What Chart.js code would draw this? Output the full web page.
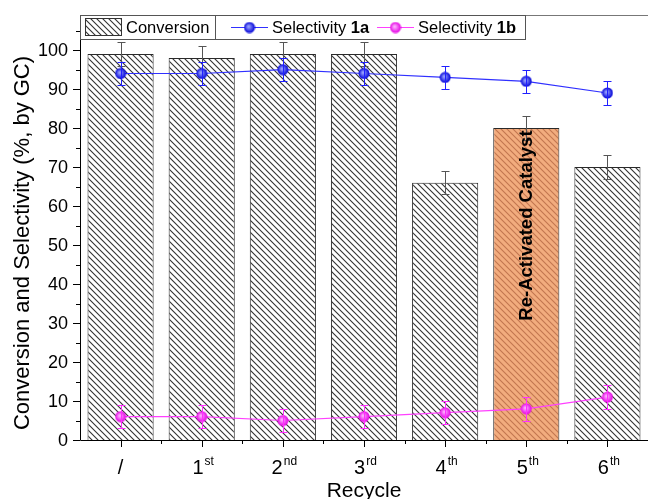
<!DOCTYPE html>
<html>
<head>
<meta charset="utf-8">
<script src="https://cdn.jsdelivr.net/npm/chart.js@4.4.0/dist/chart.umd.min.js"></script>
<style>
  html, body { margin: 0; padding: 0; background: #fff; }
  #wrap { width: 648px; height: 499px; position: relative; }
</style>
</head>
<body>
<div id="wrap"><canvas id="chart"></canvas></div>
<script>
// data
const recycleLabels = ['/', '1', '2', '3', '4', '5', '6'];
const recycleSup = ['', 'st', 'nd', 'rd', 'th', 'th', 'th'];
const conversion = [99, 98, 99, 99, 66, 80, 70];
const conversionErr = [3, 3, 3, 3, 3, 3, 3];
const select1a = [94, 94, 95, 94, 93, 92, 89];
const select1aErr = [3, 3, 3, 3, 3, 3, 3];
const select1b = [6, 6, 5, 6, 7, 8, 11];
const select1bErr = [3, 3, 3, 3, 3, 3, 3];
const yTicks = [0, 10, 20, 30, 40, 50, 60, 70, 80, 90, 100];
const yMinor = [5, 15, 25, 35, 45, 55, 65, 75, 85, 95, 105];
const reactivatedIndex = 5;

const FONT = '"Liberation Sans", Arial, sans-serif';

// hatch pattern "\\\\"
function makeHatch(bg, line) {
  const s = 6;
  const c = document.createElement('canvas');
  c.width = s; c.height = s;
  const g = c.getContext('2d');
  g.fillStyle = bg;
  g.fillRect(0, 0, s, s);
  g.strokeStyle = line;
  g.lineWidth = 1.1;
  g.beginPath();
  g.moveTo(-1, -1); g.lineTo(s + 1, s + 1);
  g.moveTo(-1, s - 1); g.lineTo(1, s + 1);
  g.moveTo(s - 1, -1); g.lineTo(s + 1, 1);
  g.stroke();
  return g.createPattern(c, 'repeat');
}

// shaded ball marker
function makeBall(light, dark) {
  const r = 5.5;
  const c = document.createElement('canvas');
  c.width = 12; c.height = 12;
  const g = c.getContext('2d');
  const grad = g.createRadialGradient(5, 5, 0.5, 6, 6, r);
  grad.addColorStop(0, light);
  grad.addColorStop(1, dark);
  g.fillStyle = grad;
  g.beginPath();
  g.arc(6, 6, r, 0, Math.PI * 2);
  g.fill();
  return c;
}

const grayHatch = makeHatch('#ffffff', '#333333');
const orangeHatch = makeHatch('#f2ac7e', '#c27650');
const barFills = conversion.map((v, i) => i === reactivatedIndex ? orangeHatch : grayHatch);
const blueBall = makeBall('#9aa4ff', '#0000d8');
const pinkBall = makeBall('#ffb0ff', '#e400e4');

// error bars drawn with the chart's own scales
function drawErrors(chart, values, errs, color, capHalf) {
  const ctx = chart.ctx;
  const x = chart.scales.x, y = chart.scales.y;
  ctx.save();
  ctx.strokeStyle = color;
  ctx.lineWidth = 1;
  values.forEach((v, i) => {
    const px = Math.round(x.getPixelForValue(i)) + 0.5;
    const top = Math.round(y.getPixelForValue(v + errs[i])) + 0.5;
    const bot = Math.round(y.getPixelForValue(v - errs[i])) + 0.5;
    ctx.beginPath();
    ctx.moveTo(px, top); ctx.lineTo(px, bot);
    ctx.moveTo(px - capHalf, top); ctx.lineTo(px + capHalf, top);
    ctx.moveTo(px - capHalf, bot); ctx.lineTo(px + capHalf, bot);
    ctx.stroke();
  });
  ctx.restore();
}

const errorPlugin = {
  id: 'errorBars',
  afterDatasetDraw(chart, args) {
    const ctx = chart.ctx;
    if (args.index === 0) {
      drawErrors(chart, conversion, conversionErr, '#555555', 4);
      // label on the re-activated bar
      const px = chart.scales.x.getPixelForValue(reactivatedIndex);
      const py = chart.scales.y.getPixelForValue(55);
      ctx.save();
      ctx.translate(px + 1, py);
      ctx.rotate(-Math.PI / 2);
      ctx.fillStyle = '#000';
      ctx.font = 'bold 18.5px ' + FONT;
      ctx.textAlign = 'center';
      ctx.textBaseline = 'middle';
      ctx.fillText('Re-Activated Catalyst', 0, 0);
      ctx.restore();
    } else if (args.index === 1) {
      drawErrors(chart, select1a, select1aErr, '#2020ff', 4);
    } else if (args.index === 2) {
      drawErrors(chart, select1b, select1bErr, '#ff30ff', 4);
    }
  }
};

const axesPlugin = {
  id: 'axesDecor',
  afterDraw(chart) {
    const ctx = chart.ctx;
    const a = chart.chartArea;
    const x = chart.scales.x, y = chart.scales.y;
    ctx.save();

    // frame
    ctx.lineWidth = 1;
    ctx.strokeStyle = '#777';
    ctx.beginPath();
    ctx.moveTo(a.left, a.top + 0.5); ctx.lineTo(648, a.top + 0.5);
    ctx.stroke();
    ctx.strokeStyle = '#000';
    ctx.beginPath();
    ctx.moveTo(a.left + 0.5, a.top); ctx.lineTo(a.left + 0.5, a.bottom + 0.5);
    ctx.lineTo(648, a.bottom + 0.5);
    ctx.stroke();

    // y ticks
    ctx.beginPath();
    yTicks.forEach(v => {
      const py = Math.round(y.getPixelForValue(v)) + 0.5;
      ctx.moveTo(a.left - 7, py); ctx.lineTo(a.left, py);
    });
    yMinor.forEach(v => {
      const py = Math.round(y.getPixelForValue(v)) + 0.5;
      ctx.moveTo(a.left - 4, py); ctx.lineTo(a.left, py);
    });
    // x ticks: major at centres, minor at boundaries
    recycleLabels.forEach((l, i) => {
      const px = Math.round(x.getPixelForValue(i)) + 0.5;
      ctx.moveTo(px, a.bottom); ctx.lineTo(px, a.bottom + 7);
      if (i > 0) {
        const bx = Math.round((x.getPixelForValue(i) + x.getPixelForValue(i - 1)) / 2) + 0.5;
        ctx.moveTo(bx, a.bottom); ctx.lineTo(bx, a.bottom + 4);
      }
    });
    ctx.stroke();

    ctx.fillStyle = '#000';
    ctx.font = '18px ' + FONT;
    ctx.textAlign = 'right';
    ctx.textBaseline = 'middle';
    yTicks.forEach(v => ctx.fillText(String(v), a.left - 12, y.getPixelForValue(v) + 1));

    // x labels with superscripts
    ctx.textBaseline = 'alphabetic';
    ctx.textAlign = 'left';
    recycleLabels.forEach((l, i) => {
      ctx.font = '20px ' + FONT;
      const w1 = ctx.measureText(l).width;
      ctx.font = '12px ' + FONT;
      const w2 = ctx.measureText(recycleSup[i]).width;
      const start = x.getPixelForValue(i) - (w1 + w2) / 2 + (recycleSup[i] ? 1 : 0);
      ctx.font = '20px ' + FONT;
      ctx.fillText(l, start, 474);
      ctx.font = '12px ' + FONT;
      ctx.fillText(recycleSup[i], start + w1 + 1, 465);
    });

    // axis titles
    ctx.font = '21px ' + FONT;
    ctx.textAlign = 'center';
    ctx.fillText('Recycle', (a.left + a.right) / 2, 497);
    ctx.save();
    ctx.translate(29, 243);
    ctx.rotate(-Math.PI / 2);
    ctx.font = '22px ' + FONT;
    ctx.fillText('Conversion and Selectivity (%, by GC)', 0, 0);
    ctx.restore();

    // legend box
    const lt = 15, lb = 39, lm = 27;
    ctx.fillStyle = '#fff';
    ctx.fillRect(81, lt + 1, 444, lb - lt - 1);
    ctx.strokeStyle = '#555';
    ctx.strokeRect(80.5, lt + 0.5, 445, lb - lt);
    ctx.beginPath();
    ctx.moveTo(215.5, lt); ctx.lineTo(215.5, lb);
    ctx.stroke();
    ctx.fillStyle = grayHatch;
    ctx.fillRect(85, 18, 37, 18);
    ctx.strokeStyle = '#333';
    ctx.strokeRect(85.5, 18.5, 36, 17);

    ctx.fillStyle = '#000';
    ctx.textAlign = 'left';
    ctx.textBaseline = 'middle';
    ctx.font = '16.5px ' + FONT;
    ctx.fillText('Conversion', 126, lm + 1);

    const legendLine = (x0, x1, color, ball, label) => {
      ctx.strokeStyle = color;
      ctx.beginPath();
      ctx.moveTo(x0, lm + 0.5); ctx.lineTo(x1, lm + 0.5);
      ctx.stroke();
      ctx.drawImage(ball, (x0 + x1) / 2 - 6, lm - 5.5);
      ctx.fillStyle = '#000';
      ctx.font = '16.5px ' + FONT;
      ctx.fillText('Selectivity ', x1 + 4, lm + 1);
      const w = ctx.measureText('Selectivity ').width;
      ctx.font = 'bold 16.5px ' + FONT;
      ctx.fillText(label, x1 + 4 + w, lm + 1);
    };
    legendLine(231, 268, '#3030ff', blueBall, '1a');
    legendLine(377, 414, '#ff40ff', pinkBall, '1b');

    ctx.restore();
  }
};

const chart = new Chart(document.getElementById('chart'), {
  data: {
    labels: recycleLabels,
    datasets: [
      {
        type: 'bar',
        label: 'Conversion',
        data: conversion,
        backgroundColor: barFills,
        borderColor: '#2a2a2a',
        borderWidth: 1,
        barPercentage: 0.815,
        categoryPercentage: 1,
        order: 3
      },
      {
        type: 'line',
        label: 'Selectivity 1a',
        data: select1a,
        borderColor: '#3030ff',
        borderWidth: 1.2,
        fill: false,
        pointStyle: blueBall,
        tension: 0,
        order: 2
      },
      {
        type: 'line',
        label: 'Selectivity 1b',
        data: select1b,
        borderColor: '#ff40ff',
        borderWidth: 1.2,
        fill: false,
        pointStyle: pinkBall,
        tension: 0,
        order: 1
      }
    ]
  },
  options: {
    responsive: true,
    maintainAspectRatio: false,
    animation: false,
    layout: { autoPadding: false, padding: { top: 15, right: -2, left: 0, bottom: 0 } },
    plugins: { legend: { display: false }, tooltip: { enabled: false } },
    scales: {
      x: {
        offset: true,
        grid: { display: false },
        border: { display: false },
        ticks: { display: false },
        afterFit: s => { s.height = 59; }
      },
      y: {
        min: 0,
        max: 109,
        grid: { display: false },
        border: { display: false },
        ticks: { display: false },
        afterFit: s => { s.width = 80; }
      }
    }
  },
  plugins: [errorPlugin, axesPlugin]
});
</script>
</body>
</html>
